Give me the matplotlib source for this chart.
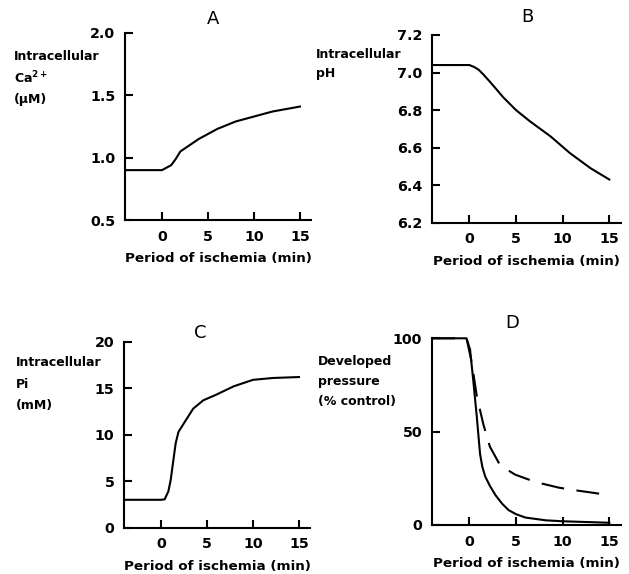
import matplotlib
matplotlib.use("Agg")
import matplotlib.pyplot as plt

# --- data (time in min of ischemia) ----------------------------------------
t_ca = [-4.0, 0.0, 0.5, 1.0, 1.5, 2.0, 3.0, 4.0, 5.0, 6.0, 8.0, 10.0, 12.0, 15.0]
ca = [0.90, 0.90, 0.92, 0.94, 0.99, 1.05, 1.10, 1.15, 1.19, 1.23, 1.29, 1.33, 1.37, 1.41]

t_ph = [-4.0, 0.0, 0.5, 1.0, 1.5, 2.4, 3.6, 5.0, 6.5, 8.7, 10.8, 13.0, 15.0]
ph = [7.04, 7.04, 7.03, 7.015, 6.99, 6.94, 6.87, 6.80, 6.74, 6.66, 6.57, 6.49, 6.43]

t_pi = [-4.0, 0.0, 0.4, 0.8, 1.05, 1.35, 1.6, 1.9, 2.6, 3.5, 4.6, 6.0, 7.9, 10.0, 12.2, 15.0]
pi = [3.0, 3.0, 3.05, 3.9, 5.1, 7.3, 9.1, 10.3, 11.4, 12.8, 13.7, 14.3, 15.2, 15.9, 16.1, 16.2]

t_dp = [-4.0, -0.3, 0.08, 0.43, 0.8, 1.15, 1.4, 1.7, 2.2, 2.8, 3.5, 4.2, 5.0, 6.0, 8.2, 10.0, 15.0]
dp_solid = [100, 100, 94, 77, 58, 38, 31, 26, 21, 16, 11.5, 8, 5.8, 4, 2.5, 2, 1.2]
t_dp2 = [-4.0, -0.3, 0.26, 0.8, 1.5, 2.2, 3.3, 4.9, 7.1, 9.6, 11.5, 13.2, 15.0]
dp_dashed = [100, 100, 87, 69, 54, 42, 32, 27, 23, 20, 18.5, 17.3, 16]

x_ticks = [0, 5, 10, 15]
XLABEL = "Period of ischemia (min)"

TICK_FONT = dict(family="DejaVu Sans", weight="bold", size=10.3)
XL_FONT = dict(family="DejaVu Sans", weight="bold", size=9.7)
YL_FONT = dict(family="DejaVu Sans", weight="bold", size=9.0)
LW = 1.5
W, H = 629, 574


def px_axes(fig, left, right, top, bottom):
    return fig.add_axes([left / W, 1 - bottom / H, (right - left) / W, (bottom - top) / H])


def style(ax, ylim, yticks, ylabels):
    ax.set_xlim(-4, 16.2)
    ax.set_ylim(*ylim)
    ax.spines[["top", "right"]].set_visible(False)
    for s in ("left", "bottom"):
        ax.spines[s].set_linewidth(LW)
    ax.set_xticks(x_ticks)
    ax.set_xticklabels([str(v) for v in x_ticks], **TICK_FONT)
    ax.set_yticks(yticks)
    ax.set_yticklabels(ylabels, **TICK_FONT)
    ax.tick_params(direction="in", length=6, width=LW, pad=7)
    ax.set_xlabel(XLABEL, labelpad=6, **XL_FONT)


def ylabel_lines(fig, x, ys, lines):
    for y, s in zip(ys, lines):
        fig.text(x / W, 1 - y / H, s, ha="left", va="center", **YL_FONT)


def panel_letter(fig, x, y, s):
    fig.text(x / W, 1 - y / H, s, ha="center", va="center",
             family="DejaVu Sans", size=13)


fig = plt.figure(figsize=(W / 100, H / 100), dpi=100)

# A - calcium
ax = px_axes(fig, 125.2, 311, 33, 220)
ax.plot(t_ca, ca, color="black", lw=LW)
style(ax, (0.5, 2.0), [0.5, 1.0, 1.5, 2.0], ["0.5", "1.0", "1.5", "2.0"])
ylabel_lines(fig, 14, [57, 78, 100], ["Intracellular", "Ca$^{\\mathbf{2+}}$", "(\u03bcM)"])
panel_letter(fig, 213, 19, "A")

# B - pH
ax = px_axes(fig, 432, 620.5, 35, 222.7)
ax.plot(t_ph, ph, color="black", lw=LW)
style(ax, (6.2, 7.2), [6.2, 6.4, 6.6, 6.8, 7.0, 7.2],
      ["6.2", "6.4", "6.6", "6.8", "7.0", "7.2"])
ylabel_lines(fig, 316, [54, 73], ["Intracellular", "pH"])
panel_letter(fig, 527, 17, "B")

# C - inorganic phosphate
ax = px_axes(fig, 124.2, 310, 341.7, 527.7)
ax.plot(t_pi, pi, color="black", lw=LW)
style(ax, (0, 20), [0, 5, 10, 15, 20], ["0", "5", "10", "15", "20"])
ylabel_lines(fig, 16, [363, 384, 405], ["Intracellular", "Pi", "(mM)"])
panel_letter(fig, 200, 333, "C")

# D - developed pressure
ax = px_axes(fig, 432, 620.5, 338.3, 525)
ax.plot(t_dp, dp_solid, color="black", lw=LW, clip_on=False)
ax.plot(t_dp2, dp_dashed, color="black", lw=LW, ls=(0, (11, 6)), clip_on=False)
style(ax, (0, 100), [0, 50, 100], ["0", "50", "100"])
ylabel_lines(fig, 318, [362, 382, 401], ["Developed", "pressure", "(% control)"])
panel_letter(fig, 512, 323, "D")

fig.savefig("out.png", dpi=100)
